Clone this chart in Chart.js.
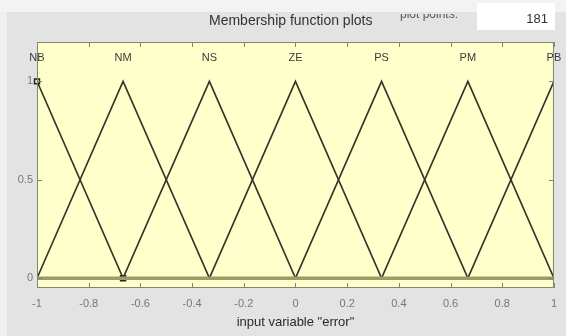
<!DOCTYPE html>
<html>
<head>
<meta charset="utf-8">
<script src="https://cdn.jsdelivr.net/npm/chart.js@4/dist/chart.umd.min.js"></script>
<style>
  html, body { margin: 0; padding: 0; background: #e6e6e6; }
  #wrap { width: 566px; height: 336px; position: relative; }
</style>
</head>
<body>
<div id="wrap"><canvas id="mfChart" width="566" height="336"></canvas></div>
<script>
// membership functions of input "error" (trimf: a, b, c)
const mfNames = ['NB', 'NM', 'NS', 'ZE', 'PS', 'PM', 'PB'];
const mfA = [-1.333, -1, -0.667, -0.333, 0, 0.333, 0.667];
const mfB = [-1, -0.667, -0.333, 0, 0.333, 0.667, 1];
const mfC = [-0.667, -0.333, 0, 0.333, 0.667, 1, 1.333];

// selected MF handles (NB)
const handleX = [-1, -0.667];
const handleY = [1, 0];

const xTicks = [-1, -0.8, -0.6, -0.4, -0.2, 0, 0.2, 0.4, 0.6, 0.8, 1];
const yTicks = [0, 0.5, 1];
const plotPoints = 181;

const lineColor = '#34342a';
const fontFamily = '"Liberation Sans", Arial, sans-serif';

const datasets = mfNames.map((name, i) => ({
    label: name,
    data: [
        { x: -1, y: 0 },
        { x: mfA[i], y: 0 },
        { x: mfB[i], y: 1 },
        { x: mfC[i], y: 0 },
        { x: 1, y: 0 }
    ],
    borderColor: lineColor,
    borderWidth: 1.6,
    pointRadius: 0,
    showLine: true,
    tension: 0
}));

// the shared zero line of all MFs
datasets.unshift({
    label: 'base',
    data: [{ x: -1, y: 0 }, { x: 1, y: 0 }],
    borderColor: '#9c9c68',
    borderWidth: 3.5,
    pointRadius: 0,
    showLine: true
});

datasets.push({
    label: 'handles',
    data: handleX.map((x, i) => ({ x: x, y: handleY[i] })),
    showLine: false,
    clip: false,
    pointStyle: 'rect',
    pointRadius: 3.5,
    pointBorderWidth: 1.5,
    pointBorderColor: '#222',
    pointBackgroundColor: 'rgba(0,0,0,0)'
});

// panel, title, text box, MF names, frame and inward ticks
const matlabLook = {
    id: 'matlabLook',
    beforeDraw(chart) {
        const ctx = chart.ctx;
        const a = chart.chartArea;
        ctx.save();
        ctx.fillStyle = '#f3f3f6';
        ctx.fillRect(0, 0, 566, 12);
        ctx.fillStyle = '#efefef';
        ctx.fillRect(0, 12, 7, 324);
        ctx.fillStyle = '#e3e3e3';
        ctx.fillRect(7, 12, 559, 324);

        ctx.fillStyle = '#ffffcc';
        ctx.fillRect(a.left, a.top, a.right - a.left, a.bottom - a.top);

        ctx.fillStyle = '#333';
        ctx.font = '14px ' + fontFamily;
        ctx.textBaseline = 'middle';
        ctx.textAlign = 'left';
        ctx.fillText('Membership function plots', 209, 21);

        // label of the points box, its top cut off by the panel edge
        ctx.save();
        ctx.beginPath();
        ctx.rect(390, 14, 90, 20);
        ctx.clip();
        ctx.fillStyle = '#555';
        ctx.font = '12px ' + fontFamily;
        ctx.fillText('plot points:', 400, 15);
        ctx.restore();

        ctx.fillStyle = '#ffffff';
        ctx.fillRect(477, 3, 78, 27);
        ctx.fillStyle = '#333';
        ctx.textAlign = 'right';
        ctx.font = '13px ' + fontFamily;
        ctx.fillText(String(plotPoints), 548, 19);
        ctx.restore();
    },
    afterDraw(chart) {
        const ctx = chart.ctx;
        const a = chart.chartArea;
        const xs = chart.scales.x;
        const ys = chart.scales.y;
        ctx.save();
        ctx.strokeStyle = '#85856e';
        ctx.lineWidth = 1;
        ctx.strokeRect(a.left + 0.5, a.top + 0.5, a.right - a.left - 1, a.bottom - a.top - 1);

        ctx.beginPath();
        xTicks.forEach(v => {
            const px = Math.round(xs.getPixelForValue(v)) + 0.5;
            ctx.moveTo(px, a.bottom);
            ctx.lineTo(px, a.bottom - 5);
            ctx.moveTo(px, a.top);
            ctx.lineTo(px, a.top + 5);
        });
        yTicks.forEach(v => {
            const py = Math.round(ys.getPixelForValue(v)) + 0.5;
            ctx.moveTo(a.left, py);
            ctx.lineTo(a.left + 5, py);
            ctx.moveTo(a.right, py);
            ctx.lineTo(a.right - 5, py);
        });
        ctx.stroke();

        ctx.fillStyle = '#3a3a3a';
        ctx.font = '11px ' + fontFamily;
        ctx.textAlign = 'center';
        ctx.textBaseline = 'middle';
        mfNames.forEach((name, i) => {
            ctx.fillText(name, xs.getPixelForValue(mfB[i]), ys.getPixelForValue(1.12));
        });
        ctx.restore();
    }
};

new Chart(document.getElementById('mfChart'), {
    type: 'scatter',
    data: { datasets: datasets },
    options: {
        responsive: false,
        animation: false,
        layout: { padding: { left: 0, top: 42, right: 10, bottom: 0 } },
        plugins: {
            legend: { display: false },
            tooltip: { enabled: false }
        },
        scales: {
            x: {
                type: 'linear',
                min: -1,
                max: 1,
                afterBuildTicks: s => { s.ticks = xTicks.map(v => ({ value: v })); },
                afterFit: s => { s.height = 48; },
                grid: { display: false, drawTicks: false },
                border: { display: false },
                ticks: {
                    padding: 9,
                    color: '#777',
                    font: { size: 11, family: fontFamily },
                    callback: v => String(+v.toFixed(1))
                },
                title: {
                    display: true,
                    text: 'input variable "error"',
                    color: '#2a2a2a',
                    font: { size: 13, family: fontFamily },
                    padding: { top: 0, bottom: 6 }
                }
            },
            y: {
                type: 'linear',
                min: -0.05,
                max: 1.2,
                afterBuildTicks: s => { s.ticks = yTicks.map(v => ({ value: v })); },
                afterFit: s => { s.width = 37; },
                grid: { display: false, drawTicks: false },
                border: { display: false },
                ticks: {
                    padding: 4,
                    color: '#777',
                    font: { size: 11, family: fontFamily },
                    callback: v => String(+v.toFixed(1))
                }
            }
        }
    },
    plugins: [matlabLook]
});
</script>
</body>
</html>
